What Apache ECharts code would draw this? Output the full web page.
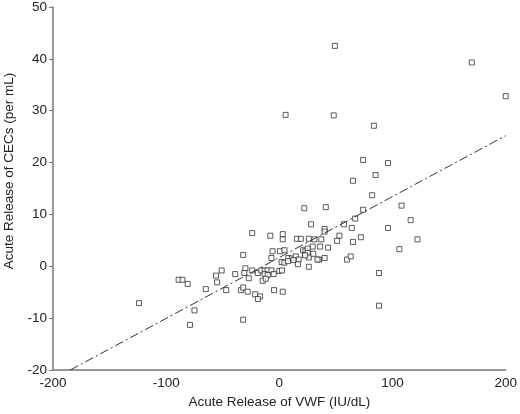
<!DOCTYPE html>
<html>
<head>
<meta charset="utf-8">
<script src="https://cdn.jsdelivr.net/npm/echarts@6/dist/echarts.min.js"></script>
<style>html,body{margin:0;padding:0;background:#fff}#c{width:520px;height:414px}</style>
</head>
<body>
<div id="c"></div>
<script>
var xTitle = "Acute Release of VWF (IU/dL)";
var yTitle = "Acute Release of CECs (per mL)";
var xTicks = [-200, -100, 0, 100, 200];
var yTicks = [-20, -10, 0, 10, 20, 30, 40, 50];
var vwf = [49,170,200,5.5,48,83.5,74,96,85,65,82,
  108,116,96,122,106,88,88,
  22,41,28,74,67,57,64,40,40,53,51,72,65,37,31,26,15.5,19,-24,-8,3,3,
  36,43,29.5,-6,0.5,4.5,21,23,25,-32,-7,8,11,14.5,17,22.5,25,26,30,35,40,59.8,63,2,4.4,7.6,12.5,16.4,26,33.7,22.8,
  -30,-51,-56,-39,-31,-24,-19,-16,-13,-10.5,-7,0,2.3,-13,-10.3,-5,-27,-14.7,-12,-89,-85.6,-81,-55,-65,-47,-34,-32,-28,-21.4,-17,-19,-4.7,3,-124,-75,-79,-32];
var cecs = [42.5,39.3,32.8,29.2,29.1,27.1,20.5,19.9,17.6,16.5,13.7,
  11.7,8.9,7.4,5.2,3.3,-1.3,-7.6,
  11.2,11.4,8.1,10.9,9.2,8.1,7.4,7.2,6.7,5.9,4.9,5.6,4.7,5.2,5.2,5.3,5.3,5.3,6.4,5.9,6.2,5.2,
  3.8,3.6,3.8,2.9,2.9,3.1,3.1,2.9,3.4,2.2,1.6,1.6,1.5,1.9,1.3,2.2,2.6,1.7,2.4,1.3,1.6,1.3,1.9,0.8,0.7,1.0,1.2,0.4,-0.1,1.3,2.1,
  -0.4,-0.8,-1.8,-1.5,-1.3,-0.8,-1.3,-0.8,-0.8,-0.8,-0.8,-0.9,-0.8,-1.5,-1.7,-1.5,-2.3,-2.8,-2.4,-2.6,-2.6,-3.4,-3.1,-4.4,-4.6,-4.6,-4.1,-4.9,-5.4,-5.8,-6.3,-4.6,-4.9,-7.1,-8.5,-11.3,-10.3];
var fitX = [-184.7, 200];
var fitY = [-20, 25.2];

var points = vwf.map(function(x, i){ return [x, cecs[i]]; });
var fitLine = fitX.map(function(x, i){ return [x, fitY[i]]; });

var chart = echarts.init(document.getElementById('c'));
var font = 'Liberation Sans, Arial, sans-serif';
chart.setOption({
  animation: false,
  backgroundColor: '#fff',
  grid: {left: 53, right: 12, top: 6, bottom: 44},
  graphic: [{
    type: 'text', x: 9, y: 171, rotation: Math.PI / 2,
    style: {text: yTitle, fill: '#222', fontSize: 13.5, fontFamily: font, align: 'center', verticalAlign: 'middle'}
  }],
  xAxis: {
    type: 'value', min: xTicks[0], max: xTicks[xTicks.length-1], interval: 100,
    name: xTitle, nameLocation: 'middle', nameGap: 19,
    nameTextStyle: {color: '#222', fontSize: 13.5, fontFamily: font},
    axisLine: {onZero: false, lineStyle: {color: '#777', width: 1.5}},
    axisTick: {show: false},
    splitLine: {show: false},
    axisLabel: {color: '#222', fontSize: 13.5, fontFamily: font, margin: 6}
  },
  yAxis: {
    type: 'value', min: yTicks[0], max: yTicks[yTicks.length-1], interval: 10,
    axisLine: {show: true, onZero: false, lineStyle: {color: '#777', width: 1.5}},
    axisTick: {show: true, length: 4, lineStyle: {color: '#777'}},
    splitLine: {show: false},
    axisLabel: {color: '#222', fontSize: 13.5, fontFamily: font, margin: 6}
  },
  series: [
    {
      type: 'line', data: fitLine, symbol: 'none', silent: true,
      lineStyle: {color: '#333', width: 1, type: [9, 3, 2, 3]}
    },
    {
      type: 'scatter', data: points, symbol: 'rect', symbolSize: 5,
      itemStyle: {color: '#fff', borderColor: '#333', borderWidth: 1}
    }
  ]
});
</script>
</body>
</html>
